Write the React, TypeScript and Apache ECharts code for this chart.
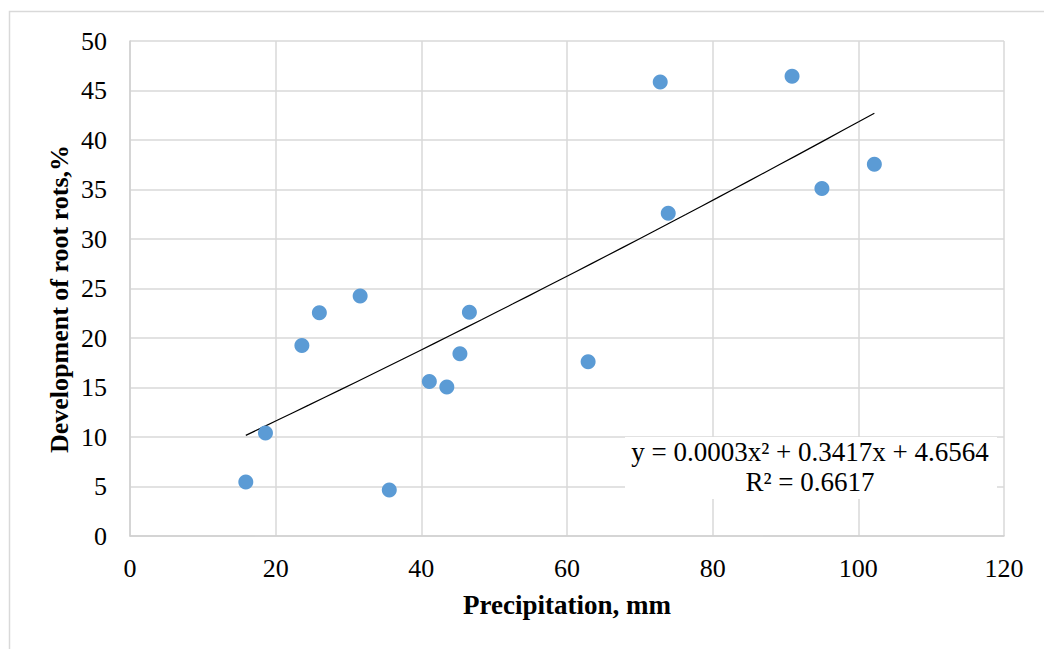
import React, { useEffect, useRef } from "react";
import * as echarts from "echarts";

const precipitation = [15.9, 18.6, 23.6, 26.0, 31.6, 35.6, 41.1, 43.5, 45.3, 46.6, 62.9, 72.8, 73.9, 90.9, 95.0, 102.2];
const rootRot = [5.45, 10.4, 19.25, 22.55, 24.25, 4.65, 15.6, 15.05, 18.4, 22.6, 17.6, 45.85, 32.6, 46.45, 35.1, 37.55];
const trendCoef = [0.0003, 0.3417, 4.6564]; // y = a x^2 + b x + c (from the chart's equation)
const xTicks = [0, 20, 40, 60, 80, 100, 120];
const yTicks = [0, 5, 10, 15, 20, 25, 30, 35, 40, 45, 50];
const equationText = "y = 0.0003x² + 0.3417x + 4.6564";
const r2Text = "R² = 0.6617";
const xTitle = "Precipitation, mm";
const yTitle = "Development of root rots,%";

const FONT = "'Liberation Serif', 'Times New Roman', serif";

export default function App() {
  const ref = useRef<HTMLDivElement>(null);
  useEffect(() => {
    if (!ref.current) return;
    const chart = echarts.init(ref.current, undefined, { renderer: "svg" });
    const xs = precipitation;
    const xMin = Math.min(...xs);
    const xMax = Math.max(...xs);
    const trend: number[][] = [];
    const steps = 40;
    for (let i = 0; i <= steps; i++) {
      const x = xMin + ((xMax - xMin) * i) / steps;
      trend.push([x, trendCoef[0] * x * x + trendCoef[1] * x + trendCoef[2]]);
    }
    chart.setOption({
      animation: false,
      backgroundColor: "#ffffff",
      grid: { left: 130, right: 40, top: 41, bottom: 113, containLabel: false },
      xAxis: {
        type: "value",
        min: xTicks[0],
        max: xTicks[xTicks.length - 1],
        interval: 20,
        axisLine: { show: true, lineStyle: { color: "#d0d0d0", width: 1.5 } },
        axisTick: { show: false },
        axisLabel: { color: "#000", fontFamily: FONT, fontSize: 26, margin: 19 },
        splitLine: { show: true, lineStyle: { color: "#d9d9d9", width: 1.5 } },
      },
      yAxis: {
        type: "value",
        min: yTicks[0],
        max: yTicks[yTicks.length - 1],
        interval: 5,
        axisLine: { show: true, lineStyle: { color: "#d0d0d0", width: 1.5 } },
        axisTick: { show: false },
        axisLabel: { color: "#000", fontFamily: FONT, fontSize: 26, margin: 23 },
        splitLine: { show: true, lineStyle: { color: "#d9d9d9", width: 1.5 } },
      },
      series: [
        {
          type: "line",
          data: trend,
          showSymbol: false,
          symbol: "none",
          lineStyle: { color: "#000", width: 1.2 },
          z: 3,
          silent: true,
        },
        {
          type: "scatter",
          data: precipitation.map((x, i) => [x, rootRot[i]]),
          symbolSize: 15,
          itemStyle: { color: "#5b9bd5", opacity: 1 },
          z: 4,
        },
      ],
      graphic: [
        {
          type: "rect",
          shape: { x: 9.5, y: 11.5, width: 1060, height: 660 },
          style: { fill: "none", stroke: "#d9d9d9", lineWidth: 1.5 },
          silent: true,
          z: 0,
        },
        {
          type: "rect",
          shape: { x: 625, y: 437, width: 372, height: 62 },
          style: { fill: "#ffffff" },
          z: 10,
        },
        {
          type: "text",
          x: 810,
          y: 452,
          style: { text: equationText, font: `27px ${FONT}`, fill: "#000", align: "center", verticalAlign: "middle" },
          z: 11,
        },
        {
          type: "text",
          x: 810,
          y: 482,
          style: { text: r2Text, font: `27px ${FONT}`, fill: "#000", align: "center", verticalAlign: "middle" },
          z: 11,
        },
        {
          type: "text",
          x: 567,
          y: 605,
          style: { text: xTitle, font: `bold 27px ${FONT}`, fill: "#000", align: "center", verticalAlign: "middle" },
          z: 11,
        },
        {
          type: "text",
          x: 59,
          y: 299,
          rotation: Math.PI / 2,
          style: { text: yTitle, font: `bold 26px ${FONT}`, fill: "#000", align: "center", verticalAlign: "middle" },
          z: 11,
        },
      ],
    });
    return () => chart.dispose();
  }, []);
  return <div ref={ref} style={{ position: "fixed", left: 0, top: 0, width: 1044, height: 649 }} />;
}
